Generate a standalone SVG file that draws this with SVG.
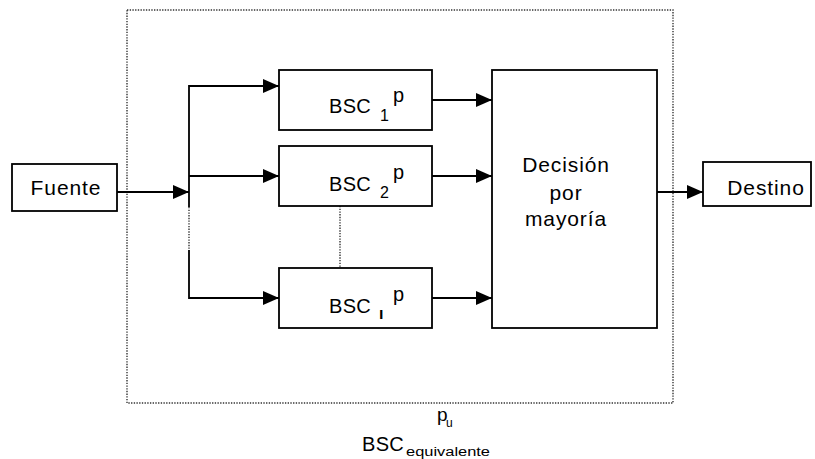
<svg xmlns="http://www.w3.org/2000/svg" width="815" height="459" viewBox="0 0 815 459">
<style>
.box{fill:#fff;stroke:#000;stroke-width:1.8}
.ln{fill:none;stroke:#000;stroke-width:1.8}
.dot{fill:none;stroke:#333;stroke-width:1.4;stroke-dasharray:1.35 1.35}
text{font-family:"Liberation Sans",Arial,sans-serif;fill:#000}
.lbl{font-size:21px;letter-spacing:0.9px}
.bsc{font-size:20px;letter-spacing:0.3px}
.sub{font-size:16px}
</style>
<defs>
<marker id="ah" markerWidth="16" markerHeight="14" refX="16" refY="7" orient="auto" markerUnits="userSpaceOnUse">
<path d="M0,0 L16,7 L0,14 Z" fill="#000"/>
</marker>
</defs>
<rect id="outer" x="127" y="10" width="546" height="393" class="dot"/>
<g id="connectors">
<path class="ln" d="M117,192 H189" marker-end="url(#ah)"/>
<path class="ln" d="M189,207 V86 H279" marker-end="url(#ah)"/>
<path class="ln" d="M189,176 H279" marker-end="url(#ah)"/>
<path class="dot" d="M189,207 V250"/>
<path class="ln" d="M189,250 V298 H279" marker-end="url(#ah)"/>
<path class="dot" d="M340,206 V268"/>
<path class="ln" d="M432,100 H492" marker-end="url(#ah)"/>
<path class="ln" d="M432,176 H492" marker-end="url(#ah)"/>
<path class="ln" d="M432,298 H492" marker-end="url(#ah)"/>
<path class="ln" d="M657,192 H703" marker-end="url(#ah)"/>
</g>
<g id="fuente">
<rect class="box" x="12" y="164" width="105" height="47"/>
<text class="lbl" x="66" y="195" text-anchor="middle">Fuente</text>
</g>
<g id="bsc1">
<rect class="box" x="279" y="70" width="153" height="60"/>
<text class="bsc" x="329" y="113">BSC<tspan class="sub" x="380" y="121">1</tspan><tspan x="393" y="102">p</tspan></text>
</g>
<g id="bsc2">
<rect class="box" x="279" y="146" width="153" height="60"/>
<text class="bsc" x="329" y="191">BSC<tspan class="sub" x="380" y="198">2</tspan><tspan x="393" y="179">p</tspan></text>
</g>
<g id="bscn">
<rect class="box" x="279" y="268" width="153" height="60"/>
<text class="bsc" x="329" y="313">BSC<tspan class="sub" x="379" y="319" font-weight="bold">ı</tspan><tspan x="393" y="301">p</tspan></text>
</g>
<g id="decision">
<rect class="box" x="492" y="70" width="165" height="258"/>
<text class="lbl" x="566" y="172" text-anchor="middle">Decisión</text>
<text class="lbl" x="566" y="200" text-anchor="middle">por</text>
<text class="lbl" x="566" y="226" text-anchor="middle">mayoría</text>
</g>
<g id="destino">
<rect class="box" x="703" y="162" width="108" height="44"/>
<text class="lbl" x="766" y="195" text-anchor="middle">Destino</text>
</g>
<g id="caption">
<text x="437" y="421" style="font-size:19px">p<tspan x="446" y="427" style="font-size:12px">u</tspan></text>
<text x="362" y="451" class="bsc">BSC<tspan x="406" y="456" style="font-size:12px;letter-spacing:0" textLength="84" lengthAdjust="spacingAndGlyphs">equivalente</tspan></text>
</g>
</svg>
